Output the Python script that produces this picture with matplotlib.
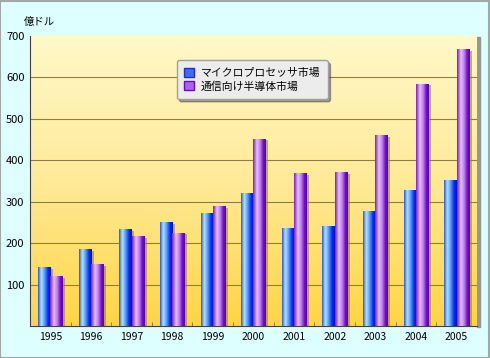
import matplotlib
matplotlib.use('Agg')
import matplotlib.pyplot as plt
import numpy as np
from matplotlib.colors import LinearSegmentedColormap
from matplotlib.patches import Patch, Rectangle

plt.rcParams['font.family'] = ['Noto Sans CJK JP', 'DejaVu Sans']

years = ['1995', '1996', '1997', '1998', '1999', '2000',
         '2001', '2002', '2003', '2004', '2005']
mpu = [142, 186, 234, 251, 273, 321, 237, 242, 278, 329, 353]
comm = [121, 150, 217, 225, 290, 452, 369, 372, 461, 585, 669]
labels = ['マイクロプロセッサ市場', '通信向け半導体市場']
yticks = [100, 200, 300, 400, 500, 600, 700]

blue_cm = LinearSegmentedColormap.from_list('b', [
    (0.0, '#2850F8'), (0.25, '#B0E8FF'), (0.5, '#5C9CFF'),
    (0.78, '#1028F0'), (1.0, '#0010C8')])
purp_cm = LinearSegmentedColormap.from_list('p', [
    (0.0, '#7A18D8'), (0.3, '#E8C0FA'), (0.55, '#C080F0'),
    (0.8, '#7010D0'), (1.0, '#5800B8')])

fig = plt.figure(figsize=(4.9, 3.58), dpi=100)
fig.patch.set_facecolor('#DDFFFF')
fig.add_artist(Rectangle((0.001, 0.001), 0.997, 0.996, transform=fig.transFigure,
                         fill=False, edgecolor='#A0A8A8', linewidth=1.5))

ax = fig.add_axes([0.0612, 0.0894, 0.912, 0.810])
x = np.arange(len(years))
w = 0.3

# plot-area shadow
fig.add_artist(Rectangle((0.0612 + 0.912, 0.0894 - 0.004), 0.006, 0.810,
                         transform=fig.transFigure, color='#909898', zorder=0))

# background gradient (light at top, orange-yellow at bottom)
grad = np.linspace(0, 1, 256).reshape(-1, 1)
bg_cm = LinearSegmentedColormap.from_list('bg', ['#FFF8C8', '#FFEA98', '#FFD444'])
ax.imshow(grad, cmap=bg_cm, extent=[-0.5, 10.5, 0, 700], origin='upper',
          aspect='auto', zorder=0)

for yv in yticks[:-1]:
    ax.axhline(yv, color='#8C8040', linewidth=0.8, zorder=1)

# shadows
ax.bar(x - w / 2 + 0.07, np.array(mpu) - 4, w, color='#A08020', alpha=0.6, zorder=2)
ax.bar(x + w / 2 + 0.07, np.array(comm) - 4, w, color='#A08020', alpha=0.6, zorder=2)

hgrad = np.linspace(0, 1, 64).reshape(1, -1)
for vals, off, cm in [(mpu, -w / 2, blue_cm), (comm, w / 2, purp_cm)]:
    bars = ax.bar(x + off, vals, w, facecolor='none', edgecolor='none', zorder=3)
    for r in bars:
        im = ax.imshow(hgrad, cmap=cm, aspect='auto', zorder=3,
                       extent=[r.get_x(), r.get_x() + r.get_width(), 0, r.get_height()])
        im.set_clip_path(r)

ax.set_xlim(-0.5, 10.5)
ax.set_ylim(0, 700)
ax.set_yticks(yticks)
ax.set_yticklabels([str(v) for v in yticks], fontsize=8)
ax.set_xticks(x)
ax.set_xticklabels(years, fontsize=7.5)
ax.tick_params(axis='both', length=0, pad=4)
ax.set_xticks(np.arange(0.5, 10.5, 1), minor=True)
ax.tick_params(axis='x', which='minor', direction='in', length=3, color='#807040')
for s in ['top', 'right']:
    ax.spines[s].set_visible(False)
ax.spines['left'].set_color('#404040')
ax.spines['bottom'].set_color('#404040')

fig.text(0.049, 0.925, '億ドル', fontsize=7.5, ha='left', va='bottom')

handles = [Patch(facecolor='#3C6CFF', edgecolor='#2030C0'),
           Patch(facecolor='#B060F0', edgecolor='#6010C0')]
leg = ax.legend(handles, labels, loc='upper left', bbox_to_anchor=(0.316, 0.935),
                fontsize=7.8, fancybox=True, shadow=True, framealpha=1,
                handlelength=0.9, handleheight=0.9, handletextpad=0.6,
                borderpad=0.7, labelspacing=0.25)
leg.get_frame().set_facecolor('#ECECEC')
leg.get_frame().set_edgecolor('#A0A0A0')

fig.savefig('out.png', dpi=100, facecolor=fig.get_facecolor())
